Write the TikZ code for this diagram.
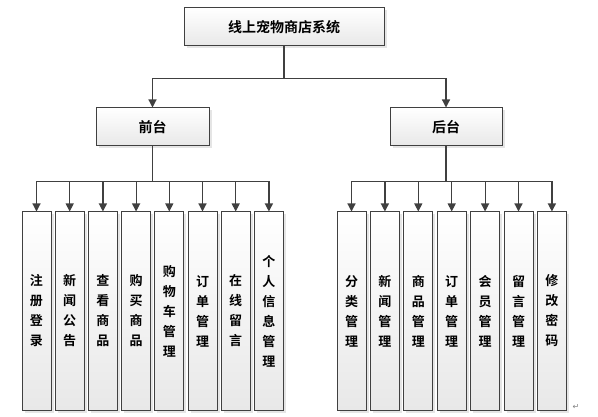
\documentclass[tikz,border=0pt]{standalone}
\usepackage{fontspec}
\usepackage{tikz}
\usetikzlibrary{arrows.meta,positioning,shadows}
\newfontfamily\cjk{Noto Sans CJK SC Bold}
\newfontfamily\symfont{DejaVu Sans}
\definecolor{Edge}{HTML}{404040}
\definecolor{Shade}{HTML}{E8E8E8}

\begin{document}
\begin{tikzpicture}[x=1pt,y=-1pt,
    box/.style={draw=Edge,line width=1pt,top color=white,bottom color=Shade,
      drop shadow={shadow xshift=2.5pt,shadow yshift=-2.5pt,fill=gray!50,opacity=0.4},
      inner sep=0pt},
    headbox/.style={box,minimum height=38pt,font=\cjk\fontsize{14}{16}\selectfont},
    leafbox/.style={box,minimum width=29pt,minimum height=198pt,align=center,
      font=\cjk\fontsize{13}{20}\selectfont},
    link/.style={draw=Edge,line width=1.2pt},
    arrowlink/.style={link,-{Triangle[length=8pt,width=8pt]}}]
  \useasboundingbox (0,0) rectangle (598,417);
  % top level
  \node[headbox,minimum width=200pt] (root) at (284,27) {线上宠物商店系统};
  \node[headbox,minimum width=113pt] (front) at (152.5,127) {前台};
  \node[headbox,minimum width=112pt] (back) at (446,127) {后台};
  \path (root.south) ++(0,32) coordinate (topbus);
  \draw[link] (root.south) -- (topbus);
  \draw[link] (topbus -| front.north) -- (topbus -| back.north);
  \draw[arrowlink] (topbus -| front.north) -- (front.north);
  \draw[arrowlink] (topbus -| back.north) -- (back.north);
  % front leaves
  \foreach \lbl [count=\i] in {注\\册\\登\\录,新\\闻\\公\\告,查\\看\\商\\品,购\\买\\商\\品,
      购\\物\\车\\管\\理,订\\单\\管\\理,在\\线\\留\\言,个\\人\\信\\息\\管\\理}
    \node[leafbox] (f\i) at ({36.5+33.2*(\i-1)},311) {\lbl};
  \path (front.south) ++(0,35) coordinate (fbus);
  \draw[link] (front.south) -- (fbus);
  \draw[link] (fbus -| f1.north) -- (fbus -| f8.north);
  \foreach \i in {1,...,8}
    \draw[arrowlink] (fbus -| f\i.north) -- (f\i.north);
  % back leaves
  \foreach \lbl [count=\i] in {分\\类\\管\\理,新\\闻\\管\\理,商\\品\\管\\理,订\\单\\管\\理,
      会\\员\\管\\理,留\\言\\管\\理,修\\改\\密\\码}
    \node[leafbox] (b\i) at ({351.5+33.4*(\i-1)},311) {\lbl};
  \path (back.south) ++(0,35) coordinate (bbus);
  \draw[link] (back.south) -- (bbus);
  \draw[link] (bbus -| b1.north) -- (bbus -| b7.north);
  \foreach \i in {1,...,7}
    \draw[arrowlink] (bbus -| b\i.north) -- (b\i.north);
  \node[text=gray,font=\symfont\fontsize{8}{8}\selectfont] (mark) at (576,407) {↵};
\end{tikzpicture}
\end{document}
